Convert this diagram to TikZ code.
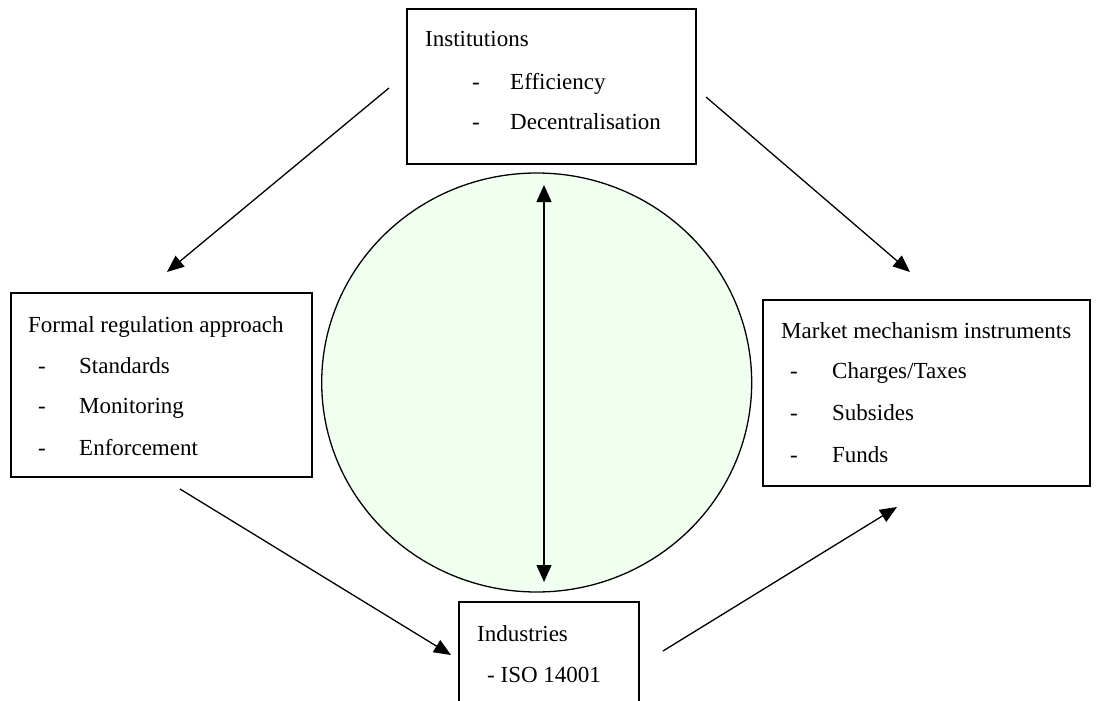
\documentclass[tikz,border=0pt]{standalone}
\usepackage{fontspec}
\setmainfont{Liberation Serif}
\usetikzlibrary{arrows.meta,shapes.geometric}

\definecolor{corefill}{RGB}{240,255,240}

\tikzset{
  frame/.style={draw=black, line width=1.3pt, fill=white, inner sep=0pt, rectangle},
  label/.style={inner sep=0pt, anchor=base west, font=\fontsize{23}{28}\selectfont},
  flow/.style={line width=1.3pt, -{Triangle[length=17pt,width=14pt]}},
  twoway/.style={line width=1.3pt, {Triangle[length=17pt,width=15pt]}-{Triangle[length=17pt,width=15pt]}}
}

\begin{document}
\begin{tikzpicture}[x=1pt,y=-1pt]
  \clip (0,0) rectangle (1098,701);
  \fill[white] (0,0) rectangle (1098,701);

  % central circle
  \node[ellipse, draw=black, line width=1.3pt, fill=corefill, inner sep=0pt,
        minimum width=430pt, minimum height=419pt] (core) at (536.7,382.5) {};

  % boxes
  \node[frame, minimum width=289pt, minimum height=155pt] (inst) at (551.5,86.5) {};
  \node[frame, minimum width=301pt, minimum height=184pt] (formal) at (161.5,385) {};
  \node[frame, minimum width=327pt, minimum height=186pt] (market) at (926.5,393) {};
  \node[frame, minimum width=180pt, minimum height=140pt] (ind) at (549,672) {};

  % Institutions
  \node[label] (instT) at (425,47) {Institutions};
  \node[label] (instD1) at (472,89) {-};
  \node[label] (instI1) at (510,89) {Efficiency};
  \node[label] (instD2) at (472,129) {-};
  \node[label] (instI2) at (510,129) {Decentralisation};

  % Formal regulation approach
  \node[label] (formT) at (28,332) {Formal regulation approach};
  \node[label] (formD1) at (38,373) {-};
  \node[label] (formI1) at (79,373) {Standards};
  \node[label] (formD2) at (38,413) {-};
  \node[label] (formI2) at (79,413) {Monitoring};
  \node[label] (formD3) at (38,455) {-};
  \node[label] (formI3) at (79,455) {Enforcement};

  % Market mechanism instruments
  \node[label] (markT) at (781,338) {Market mechanism instruments};
  \node[label] (markD1) at (790,378) {-};
  \node[label] (markI1) at (832,378) {Charges/Taxes};
  \node[label] (markD2) at (790,420) {-};
  \node[label] (markI2) at (832,420) {Subsides};
  \node[label] (markD3) at (790,462) {-};
  \node[label] (markI3) at (832,462) {Funds};

  % Industries
  \node[label] (indT) at (477,641) {Industries};
  \node[label] (indI1) at (487,682) {- ISO 14001};

  % connector end points
  \coordinate (instL) at (389,88);
  \coordinate (formTop) at (167,272);
  \coordinate (instR) at (706,97);
  \coordinate (markTop) at (910,272);
  \coordinate (formBot) at (180,489);
  \coordinate (indL) at (451,655);
  \coordinate (indR) at (663,651);
  \coordinate (markBot) at (897,507);
  \coordinate (coreTop) at (544,185);
  \coordinate (coreBot) at (544,582);

  % connectors
  \draw[flow] (instL) -- (formTop);
  \draw[flow] (instR) -- (markTop);
  \draw[flow] (formBot) -- (indL);
  \draw[flow] (indR) -- (markBot);
  \draw[twoway] (coreTop) -- (coreBot);
\end{tikzpicture}
\end{document}
